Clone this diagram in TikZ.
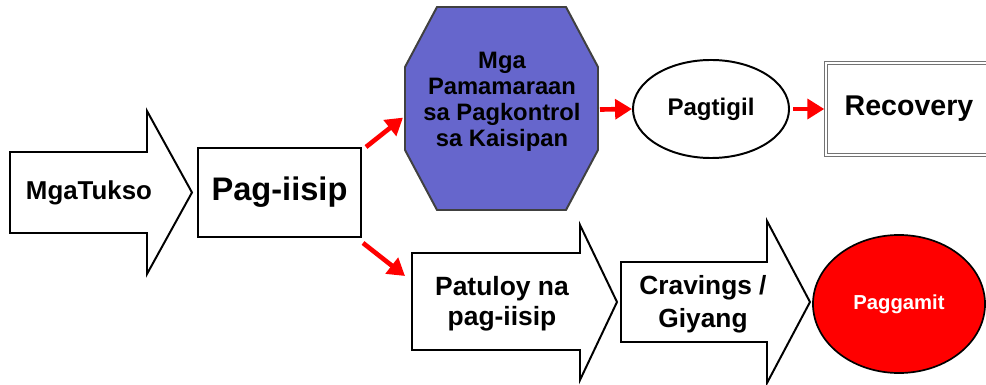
\documentclass[tikz,border=0pt]{standalone}
\usepackage{fontspec}
\setmainfont{Liberation Sans}
\usetikzlibrary{shapes.geometric,arrows.meta,calc}
\definecolor{octoblue}{RGB}{102,102,204}
\tikzset{
  blk/.style={draw=black,line width=1.4pt,fill=white},
  redarr/.style={red,line width=3.3pt,-{Triangle[length=12pt,width=14pt]}},
  lbl/.style={align=center,inner sep=0pt},
}

\begin{document}
\begin{tikzpicture}[x=0.025cm,y=-0.025cm]
    \clip (0,0) rectangle (986,385);

    % block arrows
    \draw[blk] (10,152) -- (147,152) -- (147,111) -- (192,192.5) -- (147,274) -- (147,233) -- (10,233) -- cycle;
    \node[lbl,font=\fontsize{18.4}{21}\selectfont\bfseries] (tukso) at (89,193) {MgaTukso};

    \draw[blk] (412,253) -- (580,253) -- (580,225) -- (617,302) -- (580,380) -- (580,350) -- (412,350) -- cycle;
    \coordinate (patuloy in) at (405,276);
    \node[lbl,font=\fontsize{18.8}{21.3}\selectfont\bfseries] (patuloy) at (502,304) {Patuloy na\\pag-iisip};

    \draw[blk] (621,262) -- (767,262) -- (767,221) -- (810,302) -- (767,383) -- (767,342) -- (621,342) -- cycle;
    \node[lbl,font=\fontsize{18.7}{23.5}\selectfont\bfseries] (cravings) at (703,304) {Cravings /\\Giyang};

    % boxes
    \node[blk,minimum width=4.075cm,minimum height=2.225cm,font=\fontsize{23.2}{26}\selectfont\bfseries] (isip) at (279.5,192.5) {Pag-iisip};

    \draw[fill=octoblue,draw=black!75,line width=1.4pt] (437,7) -- (566,7) -- (598,67) coordinate (octo ne) -- (598,150) coordinate (octo se) -- (566,210) -- (437,210) -- (405,150) coordinate (octo sw) -- (405,67) coordinate (octo nw) -- cycle;
    \node[lbl,font=\fontsize{16.9}{18.5}\selectfont\bfseries] (kontrol) at (502,102) {Mga\\Pamamaraan\\sa Pagkontrol\\sa Kaisipan};

    \node[ellipse,blk,minimum width=3.9cm,minimum height=2.45cm,font=\fontsize{17.1}{20}\selectfont\bfseries] (pagtigil) at (711,109) {Pagtigil};

    \node[draw=black!55,double,double distance=1.3pt,line width=1pt,minimum width=4.15cm,minimum height=2.3cm,font=\fontsize{20.3}{24}\selectfont\bfseries] (recovery) at (909,109) {Recovery};

    \node[ellipse,draw=black,line width=1.2pt,fill=red,text=white,minimum width=4.3cm,minimum height=3.45cm,font=\fontsize{14.4}{17}\selectfont\bfseries] (paggamit) at (899,304) {Paggamit};

    % red connectors
    \draw[redarr] ($(isip.north east)+(4,0)$) -- ($(octo nw)!0.61!(octo sw)+(-2,0)$);
    \draw[redarr] ($(isip.south east)+(1,5)$) -- (patuloy in);
    \draw[redarr] ($(octo ne)!0.5!(octo se)+(2,1)$) -- (pagtigil.west);
    \draw[redarr] ($(pagtigil.east)+(3,0)$) -- ($(recovery.west)+(-1,0)$);
\end{tikzpicture}
\end{document}
